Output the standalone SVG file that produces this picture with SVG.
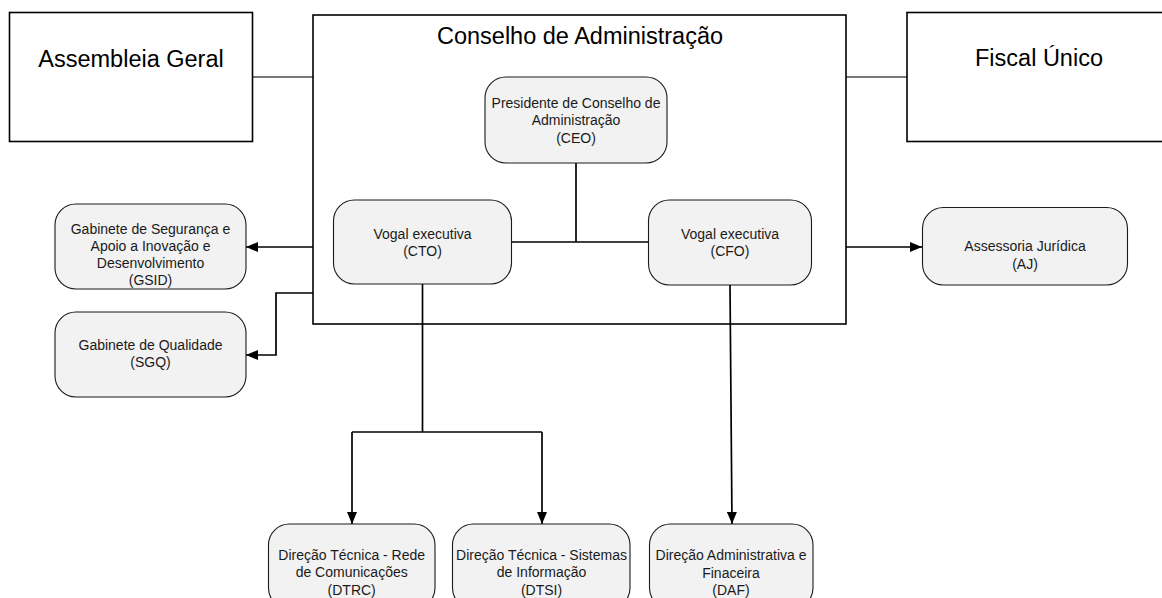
<svg xmlns="http://www.w3.org/2000/svg" width="1162" height="598" viewBox="0 0 1162 598">
<style>
.frame{fill:#fff;stroke:#000;stroke-width:1.6}
.box{fill:#f2f2f2;stroke:#1a1a1a;stroke-width:1.1}
.big{font-family:"Liberation Sans",Arial,sans-serif;font-size:23.5px;fill:#000;text-anchor:middle}
.sm{font-family:"Liberation Sans",Arial,sans-serif;font-size:14px;fill:#1a1a1a;text-anchor:middle}
.ln{fill:none;stroke:#000;stroke-width:1.7}
.gl{fill:none;stroke:#4d4d4d;stroke-width:1.6}
</style>
<defs>
<marker id="ah" markerUnits="userSpaceOnUse" markerWidth="12" markerHeight="10" refX="12" refY="5" orient="auto">
<path d="M0,0 L12,5 L0,10 z" fill="#000"/>
</marker>
</defs>
<rect width="1162" height="598" fill="#fff"/>
<g id="connectors">
<line class="gl" x1="253" y1="77" x2="313" y2="77"/>
<line class="gl" x1="846" y1="77" x2="907" y2="77"/>
<line class="ln" x1="576" y1="163" x2="576" y2="242"/>
<line class="ln" x1="512" y1="242" x2="648" y2="242"/>
<line class="ln" x1="313" y1="247" x2="246" y2="247" marker-end="url(#ah)"/>
<polyline class="ln" points="313,293 276,293 276,355 246,355" marker-end="url(#ah)"/>
<line class="ln" x1="846" y1="247" x2="922" y2="247" marker-end="url(#ah)"/>
<line class="ln" x1="422.5" y1="284" x2="422.5" y2="432"/>
<line class="ln" x1="352" y1="432" x2="542" y2="432"/>
<line class="ln" x1="352" y1="432" x2="352" y2="524" marker-end="url(#ah)"/>
<line class="ln" x1="542" y1="432" x2="542" y2="524" marker-end="url(#ah)"/>
<line class="ln" x1="730" y1="285" x2="732" y2="524" marker-end="url(#ah)"/>
</g>
<g id="assembleia">
<rect class="frame" x="9.5" y="12.5" width="243" height="129"/>
<text class="big" x="131" y="67">Assembleia Geral</text>
</g>
<g id="conselho">
<rect class="frame" x="313" y="15" width="533" height="309" fill="none" style="fill:none"/>
<text class="big" x="580" y="44">Conselho de Administração</text>
</g>
<g id="fiscal">
<rect class="frame" x="907" y="12.5" width="265" height="129"/>
<text class="big" x="1039" y="66">Fiscal Único</text>
</g>
<g id="ceo">
<rect class="box" x="485" y="77" width="182" height="86" rx="21" ry="21"/>
<text class="sm" x="576" y="108">Presidente de Conselho de</text>
<text class="sm" x="576" y="125">Administração</text>
<text class="sm" x="576" y="142.5">(CEO)</text>
</g>
<g id="cto">
<rect class="box" x="333.5" y="200" width="178" height="84" rx="21" ry="21"/>
<text class="sm" x="422.5" y="238.5">Vogal executiva</text>
<text class="sm" x="422.5" y="256">(CTO)</text>
</g>
<g id="cfo">
<rect class="box" x="648.5" y="200" width="163" height="85" rx="21" ry="21"/>
<text class="sm" x="730" y="238.5">Vogal executiva</text>
<text class="sm" x="730" y="256">(CFO)</text>
</g>
<g id="aj">
<rect class="box" x="922.5" y="207.5" width="205" height="77.5" rx="21" ry="21"/>
<text class="sm" x="1025" y="251">Assessoria Jurídica</text>
<text class="sm" x="1025" y="268.5">(AJ)</text>
</g>
<g id="gsid">
<rect class="box" x="55" y="204" width="191" height="85" rx="21" ry="21"/>
<text class="sm" x="150.5" y="234">Gabinete de Segurança e</text>
<text class="sm" x="150.5" y="251">Apoio a Inovação e</text>
<text class="sm" x="150.5" y="268">Desenvolvimento</text>
<text class="sm" x="150.5" y="285">(GSID)</text>
</g>
<g id="sgq">
<rect class="box" x="55" y="312" width="191" height="85" rx="21" ry="21"/>
<text class="sm" x="150.5" y="349.5">Gabinete de Qualidade</text>
<text class="sm" x="150.5" y="367">(SGQ)</text>
</g>
<g id="dtrc">
<rect class="box" x="268.5" y="524" width="166.5" height="85" rx="21" ry="21"/>
<text class="sm" x="351.7" y="559.5">Direção Técnica - Rede</text>
<text class="sm" x="351.7" y="577">de Comunicações</text>
<text class="sm" x="351.7" y="594.5">(DTRC)</text>
</g>
<g id="dtsi">
<rect class="box" x="452.5" y="524" width="177.5" height="85" rx="21" ry="21"/>
<text class="sm" x="541.5" y="559.5">Direção Técnica - Sistemas</text>
<text class="sm" x="541.5" y="577">de Informação</text>
<text class="sm" x="541.5" y="594.5">(DTSI)</text>
</g>
<g id="daf">
<rect class="box" x="649.5" y="524" width="163.5" height="85" rx="21" ry="21"/>
<text class="sm" x="731" y="560">Direção Administrativa e</text>
<text class="sm" x="731" y="577.5">Finaceira</text>
<text class="sm" x="731" y="595">(DAF)</text>
</g>
</svg>
